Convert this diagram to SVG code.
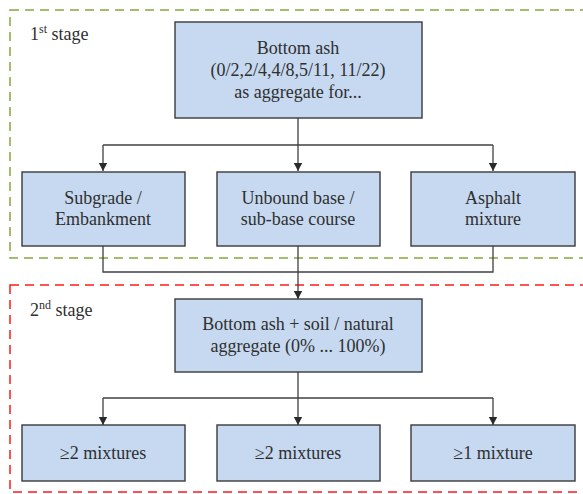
<svg xmlns="http://www.w3.org/2000/svg" width="583" height="494" viewBox="0 0 583 494">
<style>
.box{fill:#c6d9f0;stroke:#3a3a3a;stroke-width:1.4}
.t{font-family:'Liberation Serif','DejaVu Serif',serif;font-size:18px;fill:#2f2f2f;text-anchor:middle}
.lbl{font-family:'Liberation Serif','DejaVu Serif',serif;font-size:18px;fill:#2f2f2f}
.c{fill:none;stroke:#404040;stroke-width:1.3}
</style>
<defs>
<marker id="ah" markerWidth="8" markerHeight="10" refX="8" refY="5" orient="auto" markerUnits="userSpaceOnUse">
<path d="M0,0.8 L8,5 L0,9.2 Z" fill="#2a2a2a"/>
</marker>
</defs>
<g id="stage1-frame">
<rect x="10" y="10" width="585" height="248" fill="none" stroke="#86a83e" stroke-width="1.5" stroke-dasharray="9,6"/>
<text class="lbl" x="30" y="40">1<tspan font-size="12" dy="-7">st</tspan><tspan dy="7"> stage</tspan></text>
</g>
<g id="stage2-frame">
<rect x="10" y="285" width="585" height="207" fill="none" stroke="#ff1a1a" stroke-width="1.5" stroke-dasharray="9,6"/>
<text class="lbl" x="30" y="316">2<tspan font-size="12" dy="-7">nd</tspan><tspan dy="7"> stage</tspan></text>
</g>
<g id="connectors">
<path class="c" d="M103,145 H493"/>
<path class="c" d="M298,118 V171" marker-end="url(#ah)"/>
<path class="c" d="M103,145 V171" marker-end="url(#ah)"/>
<path class="c" d="M493,145 V171" marker-end="url(#ah)"/>
<path class="c" d="M103,246 V272 H493 V246"/>
<path class="c" d="M298,246 V299" marker-end="url(#ah)"/>
<path class="c" d="M298,372 V425" marker-end="url(#ah)"/>
<path class="c" d="M103,398 H493"/>
<path class="c" d="M103,398 V425" marker-end="url(#ah)"/>
<path class="c" d="M493,398 V425" marker-end="url(#ah)"/>
</g>
<g id="n-bottom-ash">
<rect class="box" x="175" y="22" width="247" height="96"/>
<text class="t" x="298" y="54">Bottom ash</text>
<text class="t" x="298" y="76">(0/2,2/4,4/8,5/11, 11/22)</text>
<text class="t" x="298" y="98">as aggregate for...</text>
</g>
<g id="n-subgrade">
<rect class="box" x="22" y="172" width="163" height="74"/>
<text class="t" x="103" y="204">Subgrade /</text>
<text class="t" x="103" y="225">Embankment</text>
</g>
<g id="n-unbound">
<rect class="box" x="217" y="172" width="163" height="74"/>
<text class="t" x="298" y="204">Unbound base /</text>
<text class="t" x="298" y="225">sub-base course</text>
</g>
<g id="n-asphalt">
<rect class="box" x="411" y="172" width="164" height="74"/>
<text class="t" x="493" y="204">Asphalt</text>
<text class="t" x="493" y="225">mixture</text>
</g>
<g id="n-mix">
<rect class="box" x="175" y="299" width="247" height="73"/>
<text class="t" x="298" y="330">Bottom ash + soil / natural</text>
<text class="t" x="298" y="352">aggregate (0% ... 100%)</text>
</g>
<g id="n-m1">
<rect class="box" x="22" y="425" width="163" height="56"/>
<text class="t" x="103" y="459">≥2 mixtures</text>
</g>
<g id="n-m2">
<rect class="box" x="217" y="425" width="163" height="56"/>
<text class="t" x="298" y="459">≥2 mixtures</text>
</g>
<g id="n-m3">
<rect class="box" x="411" y="425" width="164" height="56"/>
<text class="t" x="493" y="459">≥1 mixture</text>
</g>
</svg>
